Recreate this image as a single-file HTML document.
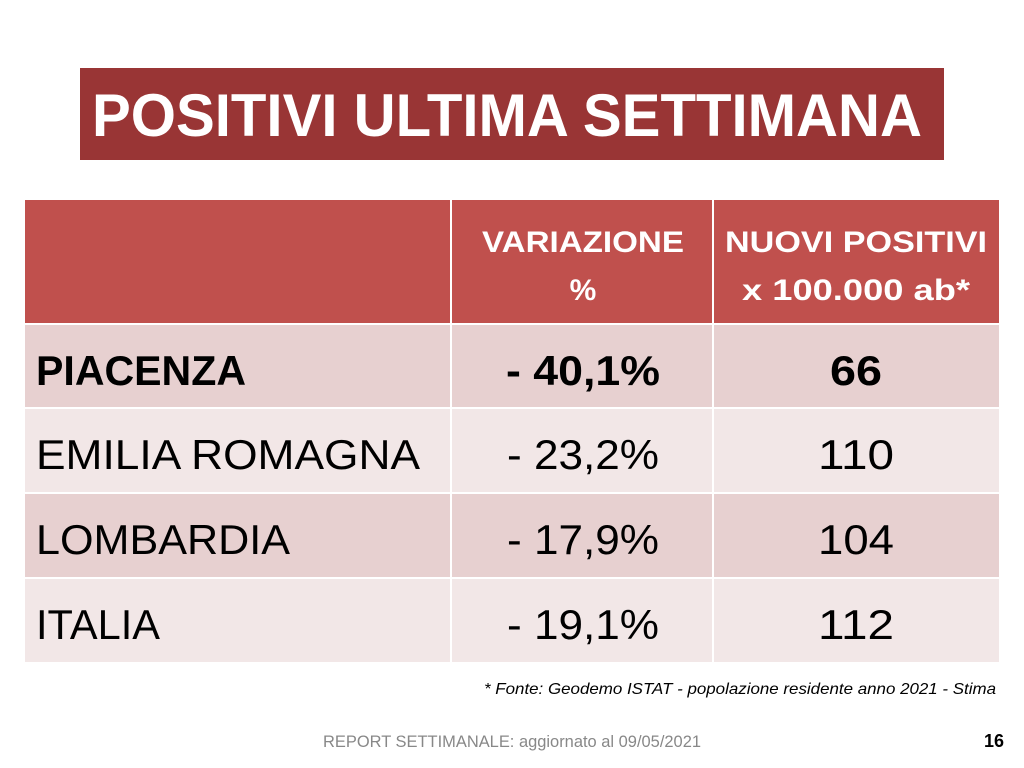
<!DOCTYPE html>
<html><head><meta charset="utf-8"><style>html,body{margin:0;padding:0;background:#fff}svg{display:block}</style></head>
<body>
<svg width="1024" height="768" viewBox="0 0 1024 768" xmlns="http://www.w3.org/2000/svg" font-family="Liberation Sans, sans-serif">
<rect x="0" y="0" width="1024" height="768" fill="#fff"/>
<rect x="80" y="68" width="864" height="92" fill="#993535"/>
<text x="92" y="136" font-size="60" font-weight="bold" fill="#fff" textLength="830" lengthAdjust="spacingAndGlyphs">POSITIVI ULTIMA SETTIMANA</text>

<rect x="25" y="200" width="974" height="123" fill="#c0504d"/>
<rect x="25" y="325" width="974" height="82" fill="#e7d0d0"/>
<rect x="25" y="409" width="974" height="83" fill="#f2e7e7"/>
<rect x="25" y="494" width="974" height="83" fill="#e7d0d0"/>
<rect x="25" y="579" width="974" height="83" fill="#f2e7e7"/>
<rect x="450" y="200" width="2" height="462" fill="#fff"/>
<rect x="712" y="200" width="2" height="462" fill="#fff"/>

<g fill="#fff" font-weight="bold" font-size="30" text-anchor="middle">
<text x="583" y="252" textLength="202" lengthAdjust="spacingAndGlyphs">VARIAZIONE</text>
<text x="583" y="300">%</text>
<text x="856" y="252" textLength="262" lengthAdjust="spacingAndGlyphs">NUOVI POSITIVI</text>
<text x="856" y="300" textLength="228" lengthAdjust="spacingAndGlyphs">x 100.000 ab*</text>
</g>
<g fill="#000" font-size="42">
<text x="36" y="385" font-weight="bold" textLength="210" lengthAdjust="spacingAndGlyphs">PIACENZA</text>
<text x="36" y="469" textLength="384" lengthAdjust="spacingAndGlyphs">EMILIA ROMAGNA</text>
<text x="36" y="554" textLength="254" lengthAdjust="spacingAndGlyphs">LOMBARDIA</text>
<text x="36" y="639" textLength="124" lengthAdjust="spacingAndGlyphs">ITALIA</text>
</g>
<g fill="#000" font-size="42" text-anchor="middle">
<text x="583" y="385" font-weight="bold" textLength="154" lengthAdjust="spacingAndGlyphs">- 40,1%</text>
<text x="583" y="469" textLength="152" lengthAdjust="spacingAndGlyphs">- 23,2%</text>
<text x="583" y="554" textLength="152" lengthAdjust="spacingAndGlyphs">- 17,9%</text>
<text x="583" y="639" textLength="152" lengthAdjust="spacingAndGlyphs">- 19,1%</text>
<text x="856" y="385" font-weight="bold" textLength="52" lengthAdjust="spacingAndGlyphs">66</text>
<text x="856" y="469" textLength="76" lengthAdjust="spacingAndGlyphs">110</text>
<text x="856" y="554" textLength="76" lengthAdjust="spacingAndGlyphs">104</text>
<text x="856" y="639" textLength="76" lengthAdjust="spacingAndGlyphs">112</text>
</g>
<text x="996" y="694" font-size="16" font-style="italic" text-anchor="end" fill="#000" textLength="512" lengthAdjust="spacingAndGlyphs">* Fonte: Geodemo ISTAT - popolazione residente anno 2021 - Stima</text>
<text x="323" y="747" font-size="17" fill="#888" textLength="378" lengthAdjust="spacingAndGlyphs">REPORT SETTIMANALE: aggiornato al 09/05/2021</text>
<text x="1004" y="747" font-size="18" font-weight="bold" text-anchor="end" fill="#000">16</text>
</svg>
</body></html>
